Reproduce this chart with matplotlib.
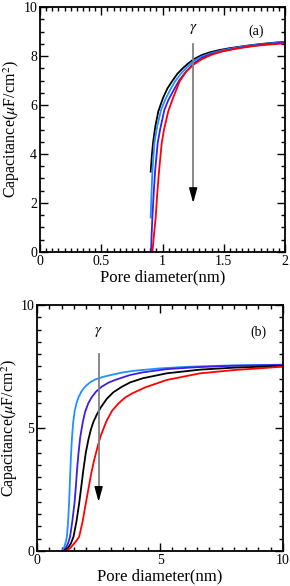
import matplotlib
matplotlib.use("Agg")
import matplotlib.pyplot as plt
from matplotlib.ticker import MultipleLocator

plt.rcParams['font.family'] = ['Liberation Serif', 'DejaVu Serif']
plt.rcParams['mathtext.fontset'] = 'stix'

LIGHT = '#1e90ff'
VIOLET = '#3c1ee6'

# panel (a): pore diameter (nm) vs capacitance
a_black_x = [0.903, 0.912, 0.922, 0.94, 0.966, 1.004, 1.04, 1.078, 1.12, 1.167, 1.21, 1.254,
             1.32, 1.385, 1.46, 1.535, 1.616, 1.7, 1.8, 1.9, 2.0]
a_black_y = [3.28, 3.9, 4.44, 5.1, 5.75, 6.29, 6.68, 6.97, 7.27, 7.51, 7.7, 7.87,
             8.04, 8.15, 8.24, 8.31, 8.37, 8.43, 8.49, 8.54, 8.58]
a_light_x = [0.903, 0.91, 0.917, 0.933, 0.955, 0.988, 1.02, 1.06, 1.10, 1.15, 1.2, 1.254,
             1.32, 1.4, 1.5, 1.6, 1.7, 1.8, 1.9, 2.0]
a_light_y = [1.41, 2.4, 3.28, 4.44, 5.1, 5.8, 6.2, 6.6, 6.95, 7.28, 7.55, 7.8,
             7.98, 8.12, 8.25, 8.34, 8.42, 8.48, 8.53, 8.57]
a_violet_x = [0.906, 0.91, 0.917, 0.928, 0.939, 0.96, 0.98, 1.015, 1.047, 1.09, 1.135, 1.19,
              1.254, 1.33, 1.4, 1.5, 1.6, 1.7, 1.8, 1.9, 2.0]
a_violet_y = [0.0, 0.6, 1.41, 2.4, 3.28, 4.44, 5.0, 5.8, 6.2, 6.6, 7.0, 7.35,
              7.7, 7.95, 8.08, 8.21, 8.31, 8.39, 8.46, 8.51, 8.55]
a_red_x = [0.917, 0.93, 0.944, 0.957, 0.971, 0.993, 1.012, 1.047, 1.086, 1.14, 1.195, 1.254,
           1.32, 1.40, 1.48, 1.56, 1.65, 1.75, 1.85, 1.93, 2.0]
a_red_y = [0.0, 0.7, 1.41, 2.4, 3.28, 4.44, 5.0, 5.75, 6.29, 6.97, 7.38, 7.65,
           7.87, 8.05, 8.18, 8.26, 8.34, 8.41, 8.46, 8.49, 8.52]

# panel (b)
b_light_x = [1.0, 1.03, 1.1, 1.16, 1.21, 1.26, 1.30, 1.34, 1.38, 1.42, 1.47, 1.53, 1.6,
             1.68, 1.8, 1.95, 2.15, 2.36, 2.7, 3.04, 3.5, 4.0, 5.0, 6.0, 7.5, 10.0]
b_light_y = [0.0, 0.03, 0.15, 0.35, 0.58, 1.2, 1.94, 3.0, 3.95, 4.65, 5.25, 5.7, 6.0,
             6.24, 6.48, 6.68, 6.85, 6.97, 7.08, 7.16, 7.26, 7.33, 7.42, 7.48, 7.53, 7.57]
b_violet_x = [1.05, 1.1, 1.18, 1.26, 1.34, 1.43, 1.52, 1.57, 1.62, 1.68, 1.75, 1.85, 1.95,
              2.08, 2.22, 2.4, 2.63, 2.9, 3.17, 3.5, 3.78, 4.3, 5.27, 6.5, 8.0, 10.0]
b_violet_y = [0.0, 0.04, 0.15, 0.32, 0.58, 1.2, 1.94, 2.55, 3.25, 3.95, 4.6, 5.2, 5.65,
              6.0, 6.25, 6.48, 6.68, 6.84, 6.95, 7.06, 7.15, 7.26, 7.39, 7.47, 7.53, 7.56]
b_black_x = [1.1, 1.14, 1.25, 1.37, 1.48, 1.6, 1.71, 1.8, 1.88, 1.98, 2.09, 2.19, 2.29,
             2.43, 2.6, 2.83, 3.1, 3.44, 3.78, 4.3, 5.27, 6.63, 8.0, 10.0]
b_black_y = [0.0, 0.03, 0.12, 0.3, 0.58, 1.2, 1.94, 2.65, 3.29, 4.0, 4.55, 4.95, 5.25,
             5.55, 5.85, 6.18, 6.45, 6.67, 6.85, 7.02, 7.22, 7.37, 7.45, 7.52]
b_red_x = [1.15, 1.21, 1.35, 1.5, 1.6, 1.71, 1.85, 1.98, 2.1, 2.2, 2.32, 2.49, 2.6,
           2.83, 3.05, 3.31, 3.6, 3.9, 4.4, 5.27, 6.63, 7.98, 10.0]
b_red_y = [0.0, 0.03, 0.12, 0.3, 0.42, 0.58, 1.2, 1.94, 2.6, 3.15, 3.7, 4.35, 4.72,
           5.3, 5.7, 6.0, 6.25, 6.42, 6.65, 6.95, 7.22, 7.35, 7.49]

fig = plt.figure(figsize=(2.9, 5.86), dpi=100)
fig.set_facecolor('white')
ax1 = fig.add_axes([0.138, 0.570, 0.845, 0.418])
ax2 = fig.add_axes([0.128, 0.0597, 0.848, 0.420])

lw = 1.3
ax1.plot(a_black_x, a_black_y, color='black', lw=lw)
ax1.plot(a_light_x, a_light_y, color=LIGHT, lw=lw)
ax1.plot(a_violet_x, a_violet_y, color=VIOLET, lw=lw)
ax1.plot(a_red_x, a_red_y, color='red', lw=lw)

ax2.plot(b_light_x, b_light_y, color=LIGHT, lw=lw)
ax2.plot(b_violet_x, b_violet_y, color=VIOLET, lw=lw)
ax2.plot(b_black_x, b_black_y, color='black', lw=lw)
ax2.plot(b_red_x, b_red_y, color='red', lw=lw)


def gamma_arrow(ax, x, y0, y1, ytxt):
    ax.plot([x, x], [y0, y1 + 0.4], color='#808080', lw=1.3)
    ax.annotate('', xy=(x, y1), xytext=(x, y1 + 0.6),
                arrowprops=dict(arrowstyle='-|>,head_width=0.25,head_length=0.9',
                                color='black', lw=1.0, shrinkA=0, shrinkB=0))
    ax.text(x, ytxt, r'$\gamma$', ha='center', va='center', fontsize=11)


gamma_arrow(ax1, 1.25, 8.5, 2.0, 9.1)
gamma_arrow(ax2, 2.5, 8.0, 2.0, 8.9)
ax1.text(1.76, 9.0, '(a)', ha='center', va='center', fontsize=10)
ax2.text(9.0, 8.9, '(b)', ha='center', va='center', fontsize=10)

ax1.set_xlim(0, 2)
ax1.set_ylim(0, 10)
ax1.set_xticks([0, 0.5, 1, 1.5, 2])
ax1.set_xticklabels(['0', '0.5', '1', '1.5', '2'])
ax1.set_yticks([0, 2, 4, 6, 8, 10])
ax1.xaxis.set_minor_locator(MultipleLocator(0.05))
ax1.yaxis.set_minor_locator(MultipleLocator(0.5))

ax2.set_xlim(0, 10)
ax2.set_ylim(0, 10)
ax2.set_xticks([0, 5, 10])
ax2.set_yticks([0, 5, 10])
ax2.xaxis.set_minor_locator(MultipleLocator(0.5))
ax2.yaxis.set_minor_locator(MultipleLocator(0.5))

for ax in (ax1, ax2):
    ax.set_xlabel('Pore diameter(nm)', fontsize=12)
    ax.set_ylabel(r'Capacitance($\mu$F/cm$^2$)', fontsize=11.5)
    ax.tick_params(which='both', direction='in', top=True, right=True, labelsize=10, pad=2)
    ax.tick_params(which='major', length=6, width=1.0)
    ax.tick_params(which='minor', length=3, width=1.0)
    for s in ax.spines.values():
        s.set_linewidth(1.3)

ax1.yaxis.set_label_coords(-0.072, 0.5)
ax2.yaxis.set_label_coords(-0.068, 0.5)
ax1.xaxis.set_label_coords(0.5, -0.07)
ax2.xaxis.set_label_coords(0.5, -0.07)

fig.savefig('out.png', dpi=100, facecolor='white')
